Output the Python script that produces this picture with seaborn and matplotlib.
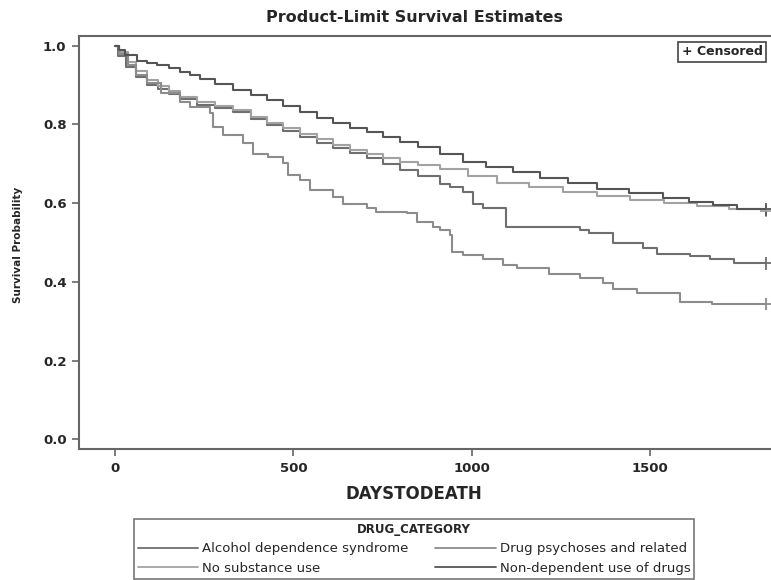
import matplotlib
matplotlib.use("Agg")
import matplotlib.pyplot as plt
import seaborn as sns
import pandas as pd
from matplotlib.lines import Line2D

# ---- data ----
categories = ["Alcohol dependence syndrome", "No substance use",
              "Drug psychoses and related", "Non-dependent use of drugs"]

alc_days = [0, 8, 30, 60, 89, 120, 150, 182, 230, 280, 331, 380, 425, 470, 519, 565, 612,
            660, 705, 750, 799, 850, 911, 940, 976, 1004, 1033, 1096, 1304, 1330, 1397, 1481,
            1519, 1612, 1668, 1734, 1825]
alc_surv = [1.0, 0.975, 0.945, 0.92, 0.900, 0.890, 0.878, 0.866, 0.850, 0.842, 0.832, 0.815,
            0.798, 0.783, 0.769, 0.754, 0.739, 0.727, 0.714, 0.700, 0.684, 0.668, 0.648, 0.640,
            0.629, 0.599, 0.587, 0.540, 0.531, 0.523, 0.499, 0.485, 0.472, 0.465, 0.459, 0.447,
            0.447]

nosub_days = [0, 12, 35, 60, 89, 120, 150, 182, 230, 280, 331, 380, 425, 470, 519, 565, 612,
              660, 705, 750, 799, 850, 911, 990, 1070, 1160, 1256, 1350, 1444, 1540, 1631,
              1720, 1825]
nosub_surv = [1.0, 0.985, 0.958, 0.935, 0.913, 0.898, 0.884, 0.870, 0.858, 0.848, 0.837, 0.820,
              0.803, 0.790, 0.777, 0.762, 0.748, 0.736, 0.725, 0.715, 0.705, 0.697, 0.688,
              0.670, 0.650, 0.640, 0.629, 0.618, 0.608, 0.600, 0.592, 0.586, 0.580]

psy_days = [0, 10, 35, 60, 89, 130, 182, 210, 266, 276, 304, 360, 388, 430, 472, 486, 519,
            547, 612, 640, 705, 733, 818, 846, 892, 911, 939, 944, 976, 1033, 1089, 1126, 1218,
            1304, 1369, 1397, 1463, 1584, 1673, 1825]
psy_surv = [1.0, 0.98, 0.95, 0.925, 0.905, 0.88, 0.858, 0.845, 0.828, 0.793, 0.773, 0.752,
            0.726, 0.718, 0.701, 0.671, 0.659, 0.633, 0.616, 0.599, 0.587, 0.578, 0.574, 0.553,
            0.540, 0.531, 0.519, 0.476, 0.468, 0.459, 0.442, 0.434, 0.420, 0.409, 0.396, 0.383,
            0.372, 0.349, 0.343, 0.343]

nondep_days = [0, 10, 28, 61, 90, 117, 150, 182, 210, 238, 280, 331, 380, 425, 470, 519, 565,
               612, 660, 705, 750, 799, 850, 911, 976, 1040, 1116, 1191, 1270, 1350, 1440,
               1537, 1610, 1677, 1743, 1825]
nondep_surv = [1.0, 0.99, 0.976, 0.962, 0.956, 0.951, 0.943, 0.934, 0.925, 0.915, 0.902, 0.887,
               0.875, 0.862, 0.847, 0.832, 0.817, 0.803, 0.792, 0.781, 0.769, 0.756, 0.742,
               0.724, 0.705, 0.693, 0.680, 0.663, 0.650, 0.637, 0.625, 0.612, 0.603, 0.595,
               0.584, 0.584]

x_ticks = [0, 500, 1000, 1500]
y_ticks = [0.0, 0.2, 0.4, 0.6, 0.8, 1.0]

series = {
    categories[0]: (alc_days, alc_surv),
    categories[1]: (nosub_days, nosub_surv),
    categories[2]: (psy_days, psy_surv),
    categories[3]: (nondep_days, nondep_surv),
}
palette = {
    categories[0]: "#6f6f6f",
    categories[1]: "#a2a2a2",
    categories[2]: "#8c8c8c",
    categories[3]: "#555555",
}

rows = []
for cat, (d, s) in series.items():
    for di, si in zip(d, s):
        rows.append({"DAYSTODEATH": di, "Survival": si, "DRUG_CATEGORY": cat})
df = pd.DataFrame(rows)

sns.set_theme(style="white")
plt.rcParams["font.family"] = ["DejaVu Sans"]

fig = plt.figure(figsize=(7.71, 5.80), dpi=100)
ax = fig.add_axes([79 / 771, 1 - 449 / 580, 1 - 79 / 771, (449 - 36) / 580])

sns.lineplot(data=df, x="DAYSTODEATH", y="Survival", hue="DRUG_CATEGORY",
             hue_order=categories, palette=palette, estimator=None,
             drawstyle="steps-post", linewidth=1.5, legend=False, ax=ax)

# censored marks at end of each curve
ends = df.groupby("DRUG_CATEGORY").last().reset_index()
sns.scatterplot(data=ends, x="DAYSTODEATH", y="Survival", hue="DRUG_CATEGORY",
                palette=palette, marker="+", s=80, linewidth=1.3, legend=False, ax=ax)

ax.set_xlim(-101, 1839)
ax.set_ylim(-0.025, 1.025)
ax.set_xticks(x_ticks)
ax.set_yticks(y_ticks)
ax.set_xticklabels([str(t) for t in x_ticks], fontsize=9.5, fontweight="bold")
ax.set_yticklabels([f"{t:.1f}" for t in y_ticks], fontsize=9.5, fontweight="bold")
ax.tick_params(axis="both", direction="out", length=5, width=1.2, color="#666666",
               bottom=True, left=True, pad=4)
ax.set_xlabel("")
ax.set_ylabel("")
for side in ["left", "bottom", "top"]:
    ax.spines[side].set_color("#666666")
    ax.spines[side].set_linewidth(1.5)
ax.spines["right"].set_visible(False)

# titles / labels
fig.text(414 / 771, 1 - 17 / 580, "Product-Limit Survival Estimates", ha="center",
         va="center", fontsize=11.5, fontweight="bold")
fig.text(414 / 771, 1 - 494 / 580, "DAYSTODEATH", ha="center", va="center",
         fontsize=12, fontweight="bold")
fig.text(18 / 771, 1 - 245 / 580, "Survival Probability", ha="center", va="center",
         rotation=90, fontsize=7.5, fontweight="bold")

# censored box
ax.text(0.988, 0.977, "+ Censored", transform=ax.transAxes, ha="right", va="top",
        fontsize=9, fontweight="bold",
        bbox=dict(boxstyle="square,pad=0.3", fc="white", ec="#444444", lw=1.2))

# legend below
handles = [Line2D([0], [0], color=palette[c], lw=1.3) for c in categories]
leg = fig.legend(handles, categories, loc="upper center", ncol=2,
                 bbox_to_anchor=(414 / 771, 1 - 512 / 580), bbox_transform=fig.transFigure,
                 title="DRUG_CATEGORY", fontsize=9.5, title_fontsize=8.5,
                 frameon=True, fancybox=False, edgecolor="#555555", borderpad=0.3,
                 handlelength=4.6, handletextpad=0.3, columnspacing=2.0,
                 labelspacing=0.5)
leg.get_title().set_fontweight("bold")
leg.get_frame().set_linewidth(1.2)

fig.savefig("out.png", dpi=100)
